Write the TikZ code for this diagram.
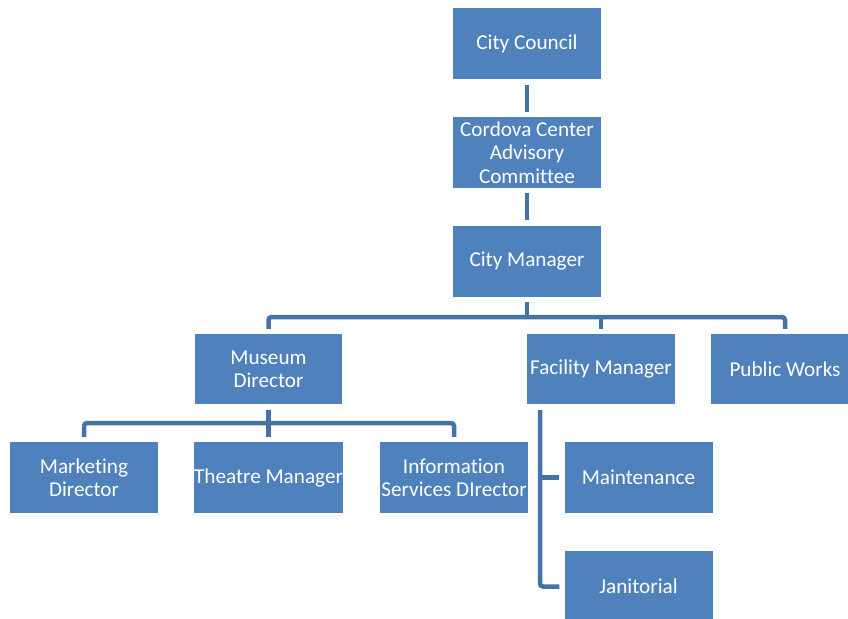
\documentclass[tikz,border=0pt]{standalone}
\usepackage{fontspec}
\setmainfont[Ligatures=NoCommon]{Carlito}
\definecolor{boxblue}{HTML}{4F81BD}
\definecolor{lineblue}{HTML}{4572A7}
\begin{document}
\begin{tikzpicture}[x=1pt,y=-1pt,
  box/.style={rectangle, fill=boxblue, text=white, minimum width=148pt, minimum height=71pt,
    inner sep=0pt, align=center, font=\fontsize{21.2}{23.3}\selectfont},
  conn/.style={draw=lineblue, line width=4.5pt, rounded corners=3pt}]
\useasboundingbox (0,0) rectangle (848,618);
\clip (0,0) rectangle (848,618);
% nodes
\node[box] (cc)  at (527,43.5)   {City Council};
\node[box] (cca) at (527,152.5)  {Cordova Center\\Advisory\\Committee};
\node[box] (cm)  at (527,261)    {City Manager};
\node[box, minimum width=147pt, minimum height=70pt] (md) at (268.5,369) {Museum\\Director};
\node[box, minimum height=70pt] (fm)  at (601,369)  {Facility Manager};
\node[box, minimum height=70pt] (pw)  at (785,369)  {Public Works};
\node[box] (mk)  at (84,477.5)   {Marketing\\Director};
\node[box] (tm)  at (268.5,477.5){Theatre Manager};
\node[box] (isd) at (454,477.5)  {Information\\Services DIrector};
\node[box] (mt)  at (638.5,477.5){Maintenance};
\node[box] (jn)  at (638.5,586.5){Janitorial};
% junction coordinates
\coordinate (b1) at (527,317);
\coordinate (b2) at (268.5,423);
\coordinate (f1) at (540,410);
% connectors
\draw[conn] ([yshift=-6pt]cc.south) -- ([yshift=5pt]cca.north);
\draw[conn] ([yshift=-5pt]cca.south) -- ([yshift=5pt]cm.north);
\draw[conn] ([yshift=-5pt]cm.south) -- (b1);
\draw[conn] ([yshift=5pt]md.north) |- (b1) -| ([yshift=5pt]pw.north);
\draw[conn] (b1 -| fm.north) -- ([yshift=5pt]fm.north);
\draw[conn] ([yshift=-6pt]md.south) -- ([yshift=5pt]tm.north);
\draw[conn] ([yshift=5pt]mk.north) |- (b2) -| ([yshift=5pt]isd.north);
\draw[conn] (f1) |- ([xshift=-5pt]jn.west);
\draw[conn] (f1 |- mt.west) -- ([xshift=-5pt]mt.west);
\end{tikzpicture}
\end{document}
